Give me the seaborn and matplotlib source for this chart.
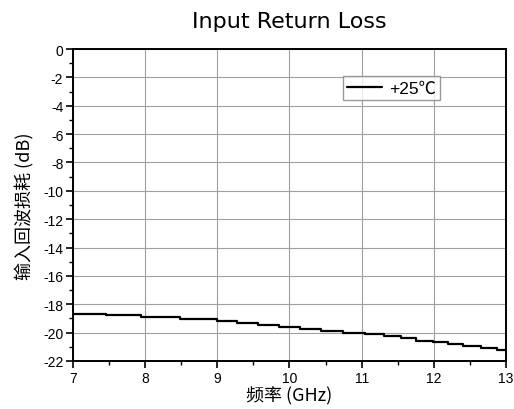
import matplotlib
matplotlib.use("Agg")
import matplotlib.pyplot as plt
import seaborn as sns
import pandas as pd
from matplotlib.ticker import MultipleLocator

freq_ghz = [7.0, 7.46, 7.94, 8.48, 8.99, 9.27, 9.57, 9.86, 10.14, 10.44, 10.74,
            11.05, 11.31, 11.55, 11.75, 11.99, 12.2, 12.41, 12.66, 12.88, 13.0]
return_loss_db = [-18.66, -18.79, -18.93, -19.07, -19.2, -19.3, -19.44, -19.6, -19.76,
                  -19.88, -20.0, -20.1, -20.27, -20.41, -20.56, -20.69, -20.83, -20.94,
                  -21.08, -21.2, -21.2]
series_label = "+25℃"
title = "Input Return Loss"
xlabel = "频率 (GHz)"
ylabel = "输入回波损耗 (dB)"

sns.set_theme(style="white")
plt.rcParams['font.family'] = ['Liberation Sans', 'Noto Sans CJK SC', 'DejaVu Sans']
plt.rcParams['axes.unicode_minus'] = False

df = pd.DataFrame({"freq": freq_ghz, "rl": return_loss_db})

fig = plt.figure(figsize=(5.14, 4.10), dpi=100)
ax = fig.add_axes([73/514, 1-362/410, (506-73)/514, (362-50)/410])

sns.lineplot(data=df, x="freq", y="rl", ax=ax, color="black", linewidth=1.6,
             drawstyle="steps-post", label=series_label)

ax.set_xlim(7, 13)
ax.set_ylim(-22, 0)
ax.xaxis.set_major_locator(MultipleLocator(1))
ax.xaxis.set_minor_locator(MultipleLocator(0.5))
ax.yaxis.set_major_locator(MultipleLocator(2))
ax.yaxis.set_minor_locator(MultipleLocator(1))
ax.grid(True, which="major", color="#a0a0a0", linewidth=0.8)
for s in ax.spines.values():
    s.set_color("black")
    s.set_linewidth(1.4)
ax.tick_params(which="major", direction="out", length=5, width=1.2, color="black",
               labelsize=10, labelcolor="black", bottom=True, left=True, pad=2)
ax.tick_params(which="minor", direction="out", length=3, width=1.0, color="black",
               bottom=True, left=True)

ax.set_xlabel(xlabel, fontsize=13, family=['Noto Sans CJK SC', 'DejaVu Sans'],
              labelpad=1, color="black")
ax.set_ylabel(ylabel, fontsize=13, family=['Noto Sans CJK SC', 'DejaVu Sans'],
              labelpad=6, color="black")
fig.text(289.5/514, 1-22/410, title, ha="center", va="center", fontsize=16,
         family=['DejaVu Sans'], color="black")

leg = ax.legend(loc="upper right", bbox_to_anchor=(0.848, 0.912), frameon=True,
                fancybox=False, edgecolor="#808080", handlelength=2.0,
                borderpad=0.25, handletextpad=0.4, borderaxespad=0,
                prop={'family': ['Liberation Sans', 'Noto Sans CJK SC'], 'size': 12.5})
leg.get_frame().set_linewidth(1.0)
for t in leg.get_texts():
    t.set_color("black")

fig.savefig("out.png", dpi=100, facecolor="white")
